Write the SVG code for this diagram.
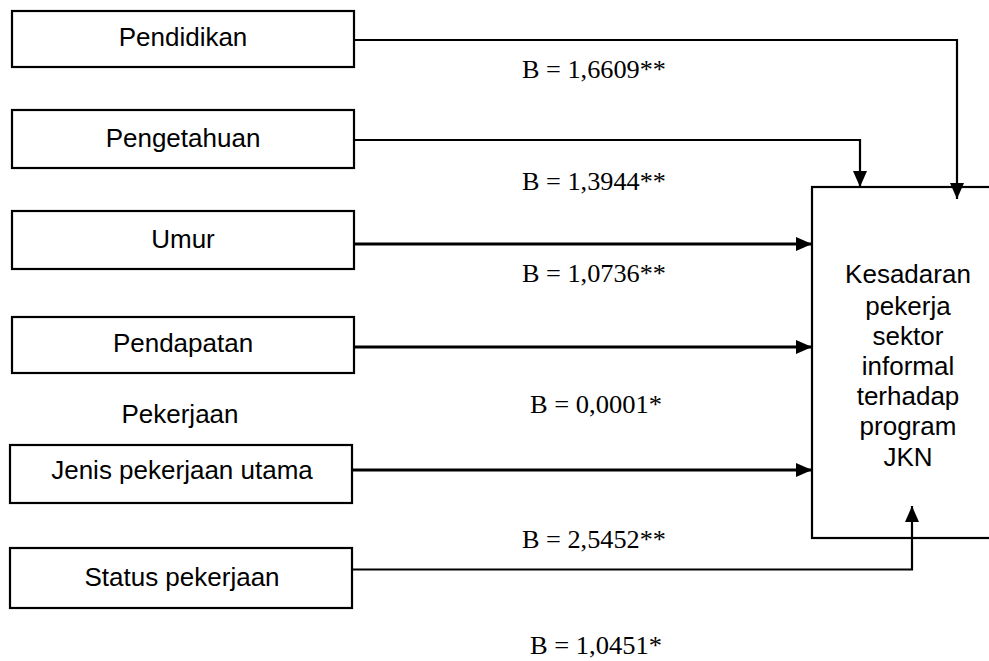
<svg xmlns="http://www.w3.org/2000/svg" width="989" height="661" viewBox="0 0 989 661">
<defs>
<marker id="arr" markerUnits="userSpaceOnUse" markerWidth="16" markerHeight="14" refX="16" refY="7" orient="auto">
<path d="M0,0 L16,7 L0,14 z" fill="#000"/>
</marker>
<style>
.box{fill:#fff;stroke:#000;stroke-width:2.2}
.t{font-family:"Liberation Sans",Arial,sans-serif;font-size:26px;fill:#000;text-anchor:middle}
.b{font-family:"Liberation Serif","Times New Roman",serif;font-size:26px;fill:#000}
.c{fill:none;stroke:#000;stroke-width:2.2}
.c3{fill:none;stroke:#000;stroke-width:3}
</style>
</defs>
<rect width="989" height="661" fill="#fff"/>
<g id="n-pendidikan"><rect class="box" x="12" y="11" width="342" height="56"/><text class="t" x="183" y="46">Pendidikan</text></g>
<g id="n-pengetahuan"><rect class="box" x="12" y="110" width="342" height="58"/><text class="t" x="183" y="147">Pengetahuan</text></g>
<g id="n-umur"><rect class="box" x="12" y="211" width="342" height="58"/><text class="t" x="183" y="248">Umur</text></g>
<g id="n-pendapatan"><rect class="box" x="12" y="317" width="342" height="56"/><text class="t" x="183" y="352">Pendapatan</text></g>
<g id="n-pekerjaan-label"><text class="t" x="180" y="423">Pekerjaan</text></g>
<g id="n-jenis"><rect class="box" x="10" y="445" width="342" height="58"/><text class="t" x="182" y="479">Jenis pekerjaan utama</text></g>
<g id="n-status"><rect class="box" x="10" y="548" width="342" height="60"/><text class="t" x="182" y="586">Status pekerjaan</text></g>
<g id="n-kesadaran"><rect class="box" x="812" y="187" width="200" height="351"/>
<text class="t" x="908" y="283">Kesadaran</text>
<text class="t" x="908" y="315">pekerja</text>
<text class="t" x="908" y="345">sektor</text>
<text class="t" x="908" y="375">informal</text>
<text class="t" x="908" y="405">terhadap</text>
<text class="t" x="908" y="435">program</text>
<text class="t" x="908" y="466">JKN</text>
</g>
<g id="connectors">
<path class="c" d="M354,40 H957 V199" marker-end="url(#arr)"/>
<path class="c" d="M354,140 H860 V187" marker-end="url(#arr)"/>
<path class="c3" d="M354,244 H812" marker-end="url(#arr)"/>
<path class="c3" d="M354,347 H812" marker-end="url(#arr)"/>
<path class="c3" d="M352,470 H812" marker-end="url(#arr)"/>
<path class="c" d="M352,569.5 H912 V506" marker-end="url(#arr)"/>
</g>
<g id="labels">
<text class="b" x="522" y="78" textLength="144" lengthAdjust="spacingAndGlyphs">B = 1,6609**</text>
<text class="b" x="522" y="190" textLength="144" lengthAdjust="spacingAndGlyphs">B = 1,3944**</text>
<text class="b" x="522" y="282" textLength="144" lengthAdjust="spacingAndGlyphs">B = 1,0736**</text>
<text class="b" x="530" y="413" textLength="132" lengthAdjust="spacingAndGlyphs">B = 0,0001*</text>
<text class="b" x="522" y="548" textLength="144" lengthAdjust="spacingAndGlyphs">B = 2,5452**</text>
<text class="b" x="530" y="654" textLength="132" lengthAdjust="spacingAndGlyphs">B = 1,0451*</text>
</g>
</svg>
